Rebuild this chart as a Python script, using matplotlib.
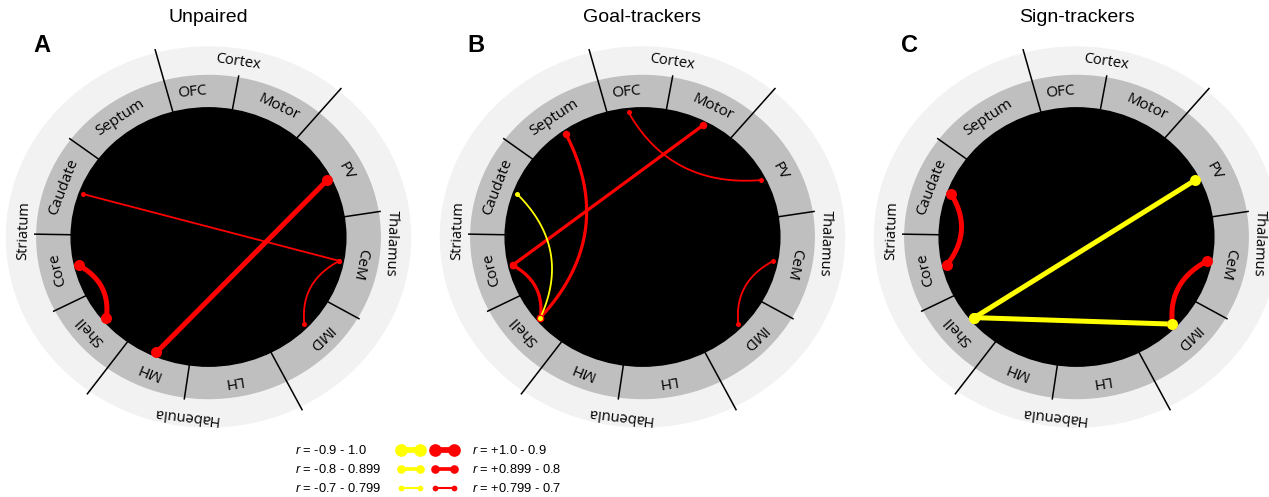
import numpy as np
import matplotlib.pyplot as plt
from matplotlib.patches import Circle

plt.rcParams['mathtext.fontset'] = 'custom'
plt.rcParams['mathtext.it'] = 'Liberation Sans:italic'
plt.rcParams['mathtext.rm'] = 'Liberation Sans'

# ---------------- data ----------------
regions = ['OFC', 'Motor', 'PV', 'CeM', 'IMD', 'LH', 'MH', 'Shell', 'Core', 'Caudate', 'Septum']
groups = ['Cortex', 'Thalamus', 'Habenula', 'Striatum']

titles = ['Unpaired', 'Goal-trackers', 'Sign-trackers']
letters = ['A', 'B', 'C']

# correlations (source, target, r)
links_unpaired = [('Caudate', 'CeM', 0.75), ('PV', 'MH', 0.93),
                  ('Core', 'Shell', 0.92), ('CeM', 'IMD', 0.76)]
links_goal = [('OFC', 'PV', 0.76), ('Motor', 'Core', 0.84),
              ('Septum', 'Shell', 0.83), ('Core', 'Shell', 0.86),
              ('CeM', 'IMD', 0.75), ('Caudate', 'Shell', -0.75)]
links_sign = [('Caudate', 'Core', 0.92), ('CeM', 'IMD', 0.93),
              ('PV', 'Shell', -0.94), ('Shell', 'IMD', -0.92)]

legend_neg = ['-0.9 - 1.0', '-0.8 - 0.899', '-0.7 - 0.799']
legend_pos = ['+1.0 - 0.9', '+0.899 - 0.8', '+0.799 - 0.7']

# ---------------- layout / style ----------------
W, H = 1269, 497
fig = plt.figure(figsize=(W / 100, H / 100), dpi=100)

# angles: clockwise from top, degrees
node_ang = {'OFC': 354, 'Motor': 27, 'PV': 63, 'CeM': 101, 'IMD': 134, 'LH': 171,
            'MH': 203, 'Shell': 230, 'Core': 257, 'Caudate': 290, 'Septum': 325}
short_bounds = [10, 81, 120, 188, 243, 271, 307]
long_bounds = [345, 40, 153, 216]
group_ang = [9, 92, 187, 272]
group_rad = [0.935, 0.905, 0.945, 0.915]
arc_pairs = [{'Core', 'Shell'}, {'CeM', 'IMD'}, {'OFC', 'PV'}, {'Septum', 'Shell'},
             {'Caudate', 'Shell'}, {'Caudate', 'Core'}]

centers = [208.5, 642.5, 1076.5]
cy = 237
sx, sy = 202, 190   # px per unit radius (the figure is slightly squashed)
LIM = 1.1

R_MID, R_IN, R_NODE = 0.85, 0.68, 0.66

px = 0.72  # points per pixel


def style(r):
    a = abs(r)
    if a >= 0.9:
        return 5.0, 11
    if a >= 0.8:
        return 3.2, 7.5
    return 1.8, 5


def pos(ang, rad):
    t = np.deg2rad(ang)
    return rad * np.sin(t), rad * np.cos(t)


def rot(ang):
    t = np.deg2rad(ang)
    return np.degrees(np.arctan2(-np.sin(t) * sy, np.cos(t) * sx))


def draw_panel(cx, links, title, letter):
    ax = fig.add_axes([(cx - LIM * sx) / W, (H - cy - LIM * sy) / H,
                       2 * LIM * sx / W, 2 * LIM * sy / H])
    ax.set_xlim(-LIM, LIM)
    ax.set_ylim(-LIM, LIM)
    ax.axis('off')
    ax.patch.set_alpha(0)

    ax.add_patch(Circle((0, 0), 1.0, color='#f2f2f2', zorder=1))
    ax.add_patch(Circle((0, 0), R_MID, color='#bfbfbf', zorder=2))
    ax.add_patch(Circle((0, 0), R_IN, color='black', zorder=3))

    for b in short_bounds:
        x0, y0 = pos(b, R_IN)
        x1, y1 = pos(b, R_MID + 0.01)
        ax.plot([x0, x1], [y0, y1], color='black', lw=1.1, zorder=4)
    for b in long_bounds:
        x0, y0 = pos(b, R_IN)
        x1, y1 = pos(b, 1.02)
        ax.plot([x0, x1], [y0, y1], color='black', lw=1.1, zorder=4, clip_on=False)

    for name in regions:
        a = node_ang[name]
        x, y = pos(a, 0.765)
        ax.text(x, y, name, rotation=rot(a), rotation_mode='anchor', ha='center', va='center',
                family='Open Sans', fontsize=11, zorder=5)
    for name, a, rr in zip(groups, group_ang, group_rad):
        x, y = pos(a, rr)
        ax.text(x, y, name, rotation=rot(a), rotation_mode='anchor', ha='center', va='center',
                family='Open Sans', fontsize=10.5, zorder=5)

    for src, dst, r in links:
        col = 'red' if r > 0 else 'yellow'
        lw, ms = style(r)
        x0, y0 = pos(node_ang[src], R_NODE)
        x1, y1 = pos(node_ang[dst], R_NODE)
        if {src, dst} in arc_pairs:
            mx, my = (x0 + x1) / 2, (y0 + y1) / 2
            h = np.hypot(x1 - x0, y1 - y0) / 2
            d = np.hypot(mx, my)
            k = 0.33
            cxp, cyp = mx - mx / d * 2 * k * h, my - my / d * 2 * k * h
            t = np.linspace(0, 1, 80)
            xs = (1 - t) ** 2 * x0 + 2 * (1 - t) * t * cxp + t ** 2 * x1
            ys = (1 - t) ** 2 * y0 + 2 * (1 - t) * t * cyp + t ** 2 * y1
        else:
            xs, ys = [x0, x1], [y0, y1]
        ax.plot(xs, ys, color=col, lw=lw * px, zorder=6, solid_capstyle='round')
        ax.plot([x0, x1], [y0, y1], 'o', color=col, ms=ms * px, mec='none', zorder=7)

    fig.text(cx / W, 1 - 18 / H, title, ha='center', va='center',
             family='Liberation Sans', fontsize=14)
    fig.text((cx - 167) / W, 1 - 46 / H, letter, ha='center', va='center',
             family='Liberation Sans', fontsize=17, fontweight='bold')


for cx, links, title, letter in zip(centers, [links_unpaired, links_goal, links_sign], titles, letters):
    draw_panel(cx, links, title, letter)

# ---------------- legend ----------------
lax = fig.add_axes([0, 0, 1, 1])
lax.set_xlim(0, W)
lax.set_ylim(H, 0)
lax.axis('off')
lax.patch.set_alpha(0)
rows_y = [450, 469.3, 488.3]
for i, (yy, ltxt, rtxt) in enumerate(zip(rows_y, legend_neg, legend_pos)):
    lw, ms = style([0.95, 0.85, 0.75][i])
    for xa, xb, col in [(401, 420, 'yellow'), (434.5, 453.5, 'red')]:
        lax.plot([xa, xb], [yy, yy], color=col, lw=lw * px * 1.15)
        lax.plot([xa, xb], [yy, yy], 'o', color=col, ms=ms * px * 1.15, mec='none')
    lax.text(295, yy, '$r$ = ' + ltxt, ha='left', va='center', family='Liberation Sans', fontsize=9.3)
    lax.text(472, yy, '$r$ = ' + rtxt, ha='left', va='center', family='Liberation Sans', fontsize=9.3)

fig.savefig('out.png', dpi=100)
